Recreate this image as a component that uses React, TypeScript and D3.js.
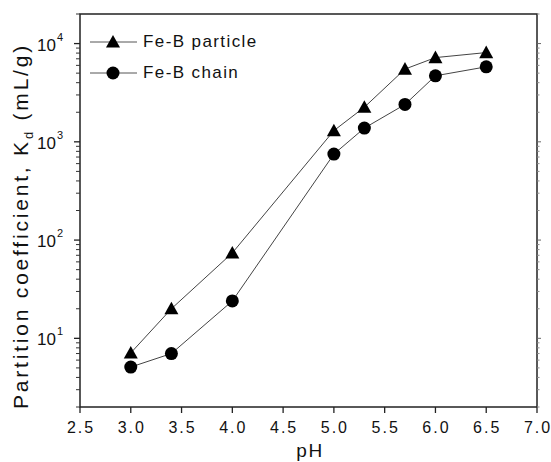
import React from "react";
import * as d3 from "d3";

const phValues = [3.0, 3.4, 4.0, 5.0, 5.3, 5.7, 6.0, 6.5];
const particleKd = [7.1, 20, 74, 1300, 2250, 5500, 7200, 8100];
const chainKd = [5.1, 7, 24, 750, 1380, 2400, 4700, 5800];
const xTicks = [2.5, 3.0, 3.5, 4.0, 4.5, 5.0, 5.5, 6.0, 6.5, 7.0];
const yMajor = [10, 100, 1000, 10000];
const seriesNames = ["Fe-B particle", "Fe-B chain"];

const W = 551, H = 462;
const L = 80, R = 537, T = 14, B = 407;
const font = "Liberation Sans, Arial, sans-serif";

export default function App() {
  const x = d3.scaleLinear().domain([2.5, 7.0]).range([L, R]);
  const y = d3.scaleLog().domain([2, 20000]).range([B, T]);
  const line = d3.line<[number, number]>().x(d => x(d[0])).y(d => y(d[1]));
  const pPts = phValues.map((p, i) => [p, particleKd[i]] as [number, number]);
  const cPts = phValues.map((p, i) => [p, chainKd[i]] as [number, number]);

  const minor: number[] = [];
  for (let e = 0; e <= 4; e++) {
    for (let m = 2; m <= 9; m++) {
      const v = m * Math.pow(10, e);
      if (v >= 2 && v <= 20000 && !yMajor.includes(v)) minor.push(v);
    }
  }

  const tri = (cx: number, cy: number, s = 7) =>
    `M${cx},${cy - s} L${cx + s},${cy + s * 0.8} L${cx - s},${cy + s * 0.8} Z`;

  return (
    <svg width={W} height={H} style={{ position: "absolute", left: 0, top: 0 }}>
      <rect x={0} y={0} width={W} height={H} fill="#fff" />
      {/* frame */}
      <rect x={L} y={T} width={R - L} height={B - T} fill="none" stroke="#222" strokeWidth={1.5} />
      {/* x ticks */}
      {xTicks.map(t => (
        <g key={"x" + t}>
          <line x1={x(t)} x2={x(t)} y1={B} y2={B + 6} stroke="#222" strokeWidth={1.3} />
          <text x={x(t) + 1} y={433} textAnchor="middle" fontFamily={font} fontSize={16} letterSpacing={2} fill="#111">
            {t.toFixed(1)}
          </text>
        </g>
      ))}
      {/* y major ticks */}
      {yMajor.map(v => (
        <g key={"y" + v}>
          <line x1={L - 6} x2={L} y1={y(v)} y2={y(v)} stroke="#222" strokeWidth={1.3} />
          <line x1={R} x2={R + 4} y1={y(v)} y2={y(v)} stroke="#666" strokeWidth={1} />
          <text x={56} y={y(v) + 7} textAnchor="end" fontFamily={font} fontSize={17} fill="#111">
            10
          </text>
          <text x={57} y={y(v) - 3} textAnchor="start" fontFamily={font} fontSize={11} fill="#111">
            {Math.round(Math.log10(v))}
          </text>
        </g>
      ))}
      {minor.map(v => (
        <g key={"m" + v}>
          <line x1={L - 4} x2={L} y1={y(v)} y2={y(v)} stroke="#333" strokeWidth={1} />
          <line x1={R} x2={R + 2.5} y1={y(v)} y2={y(v)} stroke="#888" strokeWidth={1} />
        </g>
      ))}
      {/* series */}
      <path d={line(pPts) || ""} fill="none" stroke="#444" strokeWidth={1} />
      <path d={line(cPts) || ""} fill="none" stroke="#444" strokeWidth={1} />
      {pPts.map((d, i) => (
        <path key={"p" + i} d={tri(x(d[0]), y(d[1]))} fill="#000" />
      ))}
      {cPts.map((d, i) => (
        <circle key={"c" + i} cx={x(d[0])} cy={y(d[1])} r={6.5} fill="#000" />
      ))}
      {/* legend */}
      <line x1={90} x2={137} y1={42} y2={42} stroke="#555" strokeWidth={1} />
      <path d={tri(113, 42)} fill="#000" />
      <text x={143} y={47} fontFamily={font} fontSize={17} letterSpacing={1.4} fill="#111">{seriesNames[0]}</text>
      <line x1={90} x2={137} y1={73} y2={73} stroke="#555" strokeWidth={1} />
      <circle cx={113} cy={73} r={6.5} fill="#000" />
      <text x={143} y={78} fontFamily={font} fontSize={17} letterSpacing={1.4} fill="#111">{seriesNames[1]}</text>
      {/* axis titles */}
      <text x={310} y={457} textAnchor="middle" fontFamily={font} fontSize={19} letterSpacing={1.5} fill="#111">pH</text>
      <text transform={`translate(28,226) rotate(-90)`} textAnchor="middle" fontFamily={font} fontSize={21} letterSpacing={2.8} fill="#111">
        Partition coefficient, K
        <tspan fontSize={13} dy={5}>d</tspan>
        <tspan dy={-5}> (mL/g)</tspan>
      </text>
    </svg>
  );
}
